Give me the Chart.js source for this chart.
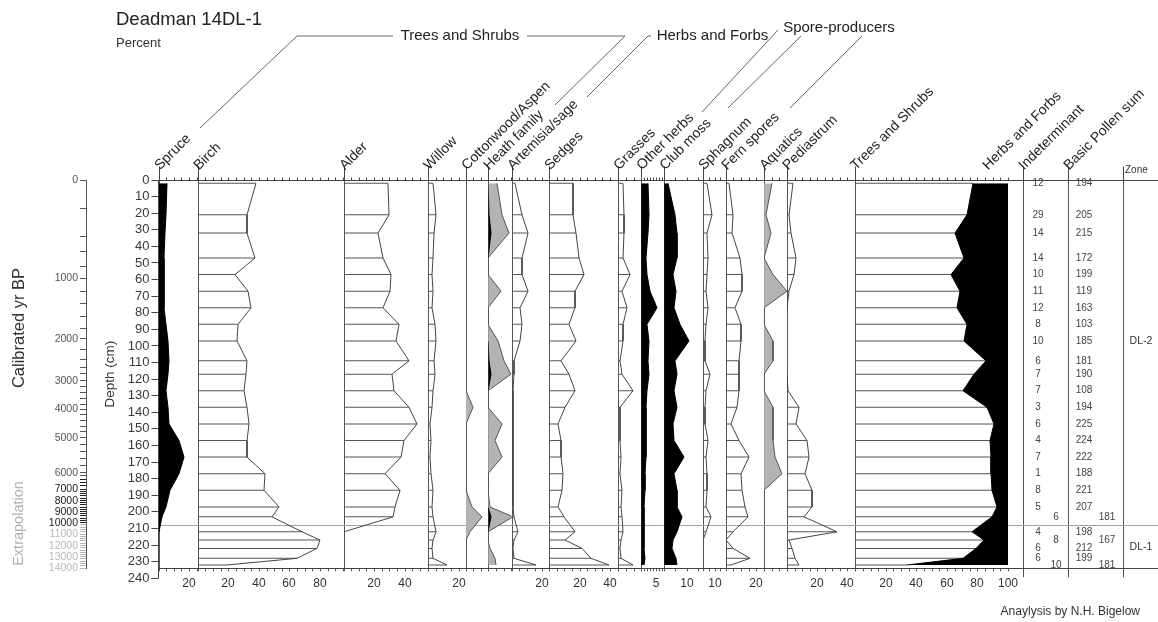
<!DOCTYPE html>
<html>
<head>
<meta charset="utf-8">
<title>Deadman 14DL-1 pollen diagram</title>
<script src="https://cdn.jsdelivr.net/npm/chart.js@4.4.1/dist/chart.umd.min.js"></script>
<style>
html,body{margin:0;padding:0;background:#fff;}
#wrap{width:1158px;height:622px;}
canvas{display:block;}
</style>
</head>
<body>
<div id="wrap"><canvas id="c" width="1158" height="622"></canvas></div>
<script>
// ---------------- DATA ----------------
const depths = [2,21,32,47,57,67,77,87,97,109,117,127,137,147,157,167,177,187,197,203,212,217,222,228,232];

const taxa = ['Spruce','Birch','Alder','Willow','Cottonwood/Aspen','Heath family','Artemisia/sage','Sedges',
  'Grasses','Other herbs','Club moss','Sphagnum','Fern spores','Aquatics','Pediastrum','Trees and Shrubs'];

const spruce      = [5.5,4.8,4.2,3.7,3.3,3.3,3.7,4.8,6.3,7.0,6.5,4.8,5.9,7.0,13.5,16.8,13.5,7.6,4.8,2.6,0,0,0,0,0];
const birch       = [38.1,32.4,32.0,37.5,24.4,32.7,34.8,26.6,25.9,32.0,31.6,30.5,32.0,33.7,32.0,32.4,44.0,43.3,53.3,48.4,68.0,80.0,77.8,65.1,19.0];
const alder       = [28.8,29.4,22.5,25.5,31.0,30.1,25.5,36.0,34.4,43.1,32.0,32.7,43.1,48.0,39.7,37.5,26.8,36.6,33.8,32.3,0,0,0,0,0];
const willow      = [3.5,5.0,3.9,3.0,2.4,3.0,2.4,4.4,5.4,3.9,4.6,3.0,2.4,1.3,1.7,1.3,2.2,3.0,2.4,3.0,5.4,3.5,2.4,3.5,12.7];
const cottonwood  = [0,0,0,0,0,0,0,0,0,0,0,0,5.2,0,0,0,0,0,4.5,11,3,0,0,0,0];
const heathExag   = [5.5,8.8,13.8,0,0,8.1,0,0,6.5,10.5,15,0,0,8.8,4.4,8.8,0,0,1.1,16,0,0,1.1,4.4,5];
const heath       = [0,0.5,2,0,0,0,0,0,0,0.5,2,0,0,0,0,0,0,0,0,1.5,0,0,0,0,0];
const artemisia   = [2.4,6.5,10.5,6.5,6.5,10.5,5.2,6.5,5.2,1.3,1.7,0.9,1.1,0.9,1.1,0.9,1.1,1.1,1.1,1.7,3.9,1.7,0.9,1.5,16];
const sedges      = [15.3,15.3,17.5,19.7,23.0,16.7,17.1,13.2,17.8,7.7,12.7,16.7,10.5,5.7,7.9,7.9,9.0,8.3,5.7,9.9,16.7,10.5,21.5,27.4,39];
const grasses     = [3.3,3.7,3.7,3.3,7.7,2.2,5.9,2.9,3.3,1.1,2.2,9.5,1.1,1.1,1.1,1.8,1.1,2.2,1.8,2.2,3.3,1.8,1.1,1.8,9.9];
const otherHerbs  = [2.2,2.4,2.2,1.7,1.9,3.0,5.3,1.9,2.7,2.1,2.7,1.9,1.7,1.6,1.7,1.6,1.3,1.3,1.0,0.8,1.0,0.8,0.8,1.3,1.0];
const clubMoss    = [1.6,4.8,5.8,5.9,4.0,5.2,4.3,7.0,11.0,4.8,5.5,4.5,5.5,4.0,4.3,8.8,4.3,5.5,5.8,7.8,5.5,4.0,3.3,5.1,5.8];
const sphagnum    = [3.0,7.4,3.0,3.9,3.0,2.4,4.4,2.4,1.8,1.5,5.9,2.4,1.5,1.5,3.9,2.4,3.0,3.0,2.4,6.8,2.4,0,0,0,0];
const fernSpores  = [2.2,5.0,4.4,9.4,10.9,10.5,6.1,9.9,9.9,9.0,9.0,9.0,7.2,3.5,9.0,15.3,10.1,10.5,12.9,14.7,5.0,0.5,4.8,16.0,3.5];
const aquatics    = [5,1.3,4.4,0,5.5,15,0,0,5.5,5.5,0,0,5.5,5.5,6.1,7.2,12,0,0,0,0,0,0,0,0];
const pediastrum  = [3.8,1.6,2.7,6.0,4.4,1.6,0,0,0,0,0,0.4,8.2,6.0,13.3,14.4,12.2,16.7,16.7,11.1,33.3,1.6,3.0,5.6,7.8];
const treesShrubs = [77.3,72.9,65.0,71.1,62.4,68.5,66.3,73.3,71.1,85.4,77.7,70.7,86.0,90.8,88.0,88.6,88.6,89.8,92.6,89.8,76.6,84.2,78.8,70.7,34];

const indeterminant      = [12,29,14,14,10,11,12,8,10,6,7,7,3,6,4,7,1,8,5,null,4,null,6,6,null];
const indeterminantExtra = [null,null,null,null,null,null,null,null,null,null,null,null,null,null,null,null,null,null,null,6,null,8,null,null,10];
const pollenSum          = [194,205,215,172,199,119,163,103,185,181,190,108,194,225,224,222,188,221,207,null,198,null,212,199,null];
const pollenSumExtra     = [null,null,null,null,null,null,null,null,null,null,null,null,null,null,null,null,null,null,null,181,null,167,null,null,181];

const zoneNames = ['DL-2','DL-1'];
const zoneLabelDepths = [97,221];
const zoneBoundaries = [208.5];
const coreBase = 234;

const panelTickLabels = [[20],[20,40,60,80],[20,40],[20],[],[],[20],[20,40],[],[5],[10],[10],[20],[],[20,40],[20,40,60,80,100]];
const depthTickLabels = [0,10,20,30,40,50,60,70,80,90,100,110,120,130,140,150,160,170,180,190,200,210,220,230,240];
const ageTickAges   = [0,1000,2000,3000,4000,5000,6000,7000,8000,9000,10000,11000,12000,13000,14000];
const ageTickDepths = [0,59.2,95.8,121.1,138.2,155.3,176.4,186.4,193.3,199.9,206.5,213.5,220.4,227.0,234];
const ageMinorDepths = [17,34.2,43.2,52.3, 67.3,74.3,82.4,89.4, 102.4,108,112.9,116.9, 124.5,128.2,131.6,135,
  141.6,145,148.4,151.8, 159.6,163.9,168.1,172.3, 178.3,180.3,182.4,184.4, 187.7,189.1,190.4,191.8,
  194.5,195.8,197.2,198.5, 201.1,202.4,203.8,205.1, 207.8,209.2,210.6,212, 214.8,216.2,217.5,218.9,
  221.6,223,224.3,225.6, 228.3,229.7,231.1,232.6];

// ---------------- LAYOUT / STYLE ----------------
const FONT = '"Liberation Sans", Arial, Helvetica, sans-serif';
const fnt = s => s + 'px ' + FONT;
const seriesList = [spruce,birch,alder,willow,cottonwood,heathExag,artemisia,sedges,grasses,otherHerbs,clubMoss,sphagnum,fernSpores,aquatics,pediastrum,treesShrubs];
const panelLayout = [
  {style:'black',  max:25.6, width:39.2,  step:5},
  {style:'hollow', max:95.3, width:145.8, step:5},
  {style:'hollow', max:55.2, width:84.5,  step:5},
  {style:'hollow', max:24.5, width:37.5,  step:5},
  {style:'gray',   max:15,   width:22.8,  step:5},
  {style:'gray',   max:15.3, width:23.4,  step:5},
  {style:'hollow', max:24.6, width:37.6,  step:5},
  {style:'hollow', max:45.4, width:69,    step:5},
  {style:'hollow', max:15.1, width:23,    step:5},
  {style:'black',  max:7.6,  width:22.9,  step:1},
  {style:'black',  max:17.4, width:39.1,  step:5},
  {style:'hollow', max:19.6, width:22.4,  step:5},
  {style:'hollow', max:25.3, width:38.5,  step:5},
  {style:'gray',   max:15,   width:22.8,  step:5},
  {style:'hollow', max:45.5, width:68.3,  step:5},
  {style:'trees',  max:100,  width:152.7, step:5}
];
const columnLayout = [
  {id:'cGap',  width:15.3, max:1,   line:false},
  {id:'cInd',  width:45,   max:3,   line:true},
  {id:'cSum',  width:54.4, max:3.5, line:true},
  {id:'cZone', width:35.3, max:1,   line:true}
];
const headerExtras = [
  {text:'Herbs and Forbs', axis:'p15', value:86.5},
  {text:'Indeterminant', axis:'cInd', value:0},
  {text:'Basic Pollen sum', axis:'cSum', value:0}
];
const TRANSP = 'rgba(0,0,0,0)';

// ---------------- SCALES ----------------
const scales = {};
scales.y = {
  type:'linear', position:'left', reverse:true, min:0, max:coreBase, offset:false, weight:0,
  grid:{drawOnChartArea:false, offset:false, tickLength:7, color:'#444', tickColor:'#444'},
  border:{display:true, color:'#444', width:1},
  ticks:{autoSkip:false, padding:2, color:'#3a3a3a', font:{family:FONT, size:13}},
  title:{display:true, text:'Depth (cm)', color:'#333', font:{family:FONT, size:13.5}, padding:{top:16, bottom:0}},
  afterBuildTicks: s => { s.ticks = depthTickLabels.map(v => ({value:v})); },
  afterFit: s => { s.width = 72.5; }
};
const ageCol = d => d > 207 ? '#b8b8b8' : (d > 180 ? '#222' : '#555');
scales.age = {
  type:'linear', position:'left', reverse:true, min:0, max:coreBase, offset:false, weight:5,
  grid:{drawOnChartArea:false, tickLength:6, tickColor: c => ageCol(c.tick ? c.tick.value : 0)},
  border:{display:true, color:'#555', width:1},
  ticks:{autoSkip:false, padding:2, font:{family:FONT, size:10.5},
    color: c => ageCol(c.tick ? c.tick.value : 0),
    callback: v => { const i = ageTickDepths.indexOf(v); return i >= 0 ? String(ageTickAges[i]) : ''; }},
  afterBuildTicks: s => { s.ticks = ageTickDepths.concat(ageMinorDepths).sort((a,b)=>a-b).map(v => ({value:v})); },
  afterFit: s => { s.width = 86; }
};
const fitX = s => { s.height = 26; s.paddingLeft = 0; s.paddingRight = 0; };
panelLayout.forEach((L, i) => {
  const labels = panelTickLabels[i];
  scales['p' + i] = {
    type:'linear', position:'bottom', stack:'panels', stackWeight:L.width, min:0, max:L.max, offset:false, alignToPixels:true,
    grid:{drawOnChartArea:true, lineWidth:1, tickLength:3, tickColor:'#555',
      color: c => (c.tick && c.tick.value === 0) ? '#555' : TRANSP},
    border:{display:true, color:'#444', width:1},
    ticks:{autoSkip:false, maxRotation:0, minRotation:0, padding:5, color:'#333', font:{family:FONT, size:12},
      callback: v => labels.indexOf(v) >= 0 ? String(v) : ''},
    afterBuildTicks: s => { const t = []; for (let k = 0; k * L.step <= L.max + 1e-9; k++) t.push({value: Math.round(k * L.step * 100) / 100}); s.ticks = t; },
    afterFit: fitX
  };
});
columnLayout.forEach(C => {
  scales[C.id] = {
    type:'linear', position:'bottom', stack:'panels', stackWeight:C.width, min:0, max:C.max, offset:false, alignToPixels:true,
    grid:{drawOnChartArea:true, lineWidth:1, tickLength:9,
      color: c => (C.line && c.tick && c.tick.value === 0) ? '#555' : TRANSP,
      tickColor: c => (C.line && c.tick && c.tick.value === 0) ? '#555' : TRANSP},
    border:{display:true, color:'#444', width:1},
    ticks:{display:false},
    afterBuildTicks: s => { s.ticks = [{value:0}]; },
    afterFit: fitX
  };
});

// ---------------- DATASETS ----------------
const pts = vals => vals.map((v, k) => ({x:v, y:depths[k]}));
const hideZeroRun = {borderColor: c => (c.p0.parsed.x === 0 && c.p1.parsed.x === 0) ? TRANSP : undefined};
const lineDS = (vals, ax, extra) => Object.assign({type:'line', data:pts(vals), xAxisID:ax, yAxisID:'y',
  borderWidth:1, pointRadius:0, tension:0, fill:false, borderColor:'#444', segment:hideZeroRun}, extra);
const barDS = (vals, ax) => ({type:'bar', data:pts(vals), xAxisID:ax, yAxisID:'y', indexAxis:'y', grouped:false,
  maxBarThickness:1, inflateAmount:0, borderWidth:0, backgroundColor:'#555', order:3});
const datasets = [];
panelLayout.forEach((L, i) => {
  const ax = 'p' + i, vals = seriesList[i];
  if (L.style === 'black') {
    datasets.push(lineDS(vals, ax, {fill:'origin', backgroundColor:'#000', borderColor:'#000', order:1}));
  } else if (L.style === 'gray') {
    datasets.push(lineDS(vals, ax, {fill:'origin', backgroundColor:'#b3b3b3', borderColor:'#555', order:2}));
  } else if (L.style === 'hollow') {
    datasets.push(barDS(vals, ax));
    datasets.push(lineDS(vals, ax, {order:1}));
  } else if (L.style === 'trees') {
    datasets.push(barDS(vals, ax));
    datasets.push(lineDS(vals, ax, {fill:{value:100}, backgroundColor:'#000', borderColor:'#000', order:2}));
  }
});
datasets.push(lineDS(heath, 'p5', {fill:'origin', backgroundColor:'#000', borderColor:'#000', order:0}));

// ---------------- DRAWING PLUGIN ----------------
function seg(ctx, x1, y1, x2, y2) { ctx.beginPath(); ctx.moveTo(x1, y1); ctx.lineTo(x2, y2); ctx.stroke(); }
function poly(ctx, p) { ctx.beginPath(); p.forEach((q, i) => i ? ctx.lineTo(q[0], q[1]) : ctx.moveTo(q[0], q[1])); ctx.stroke(); }
const cr = v => Math.round(v - 0.5) + 0.5;
function txt(ctx, s, x, y, font, color, align, base) {
  ctx.font = font; ctx.fillStyle = color; ctx.textAlign = align || 'left'; ctx.textBaseline = base || 'alphabetic';
  ctx.fillText(s, x, y);
}

const diagramPlugin = {
  id:'diagram',
  beforeDatasetsDraw(chart) {
    const {ctx, chartArea:a, scales:sc} = chart;
    ctx.save(); ctx.strokeStyle = '#a3a3a3'; ctx.lineWidth = 1;
    zoneBoundaries.forEach(d => { const yy = cr(sc.y.getPixelForValue(d)); seg(ctx, a.left, yy, a.right, yy); });
    ctx.restore();
  },
  afterDraw(chart) {
    const {ctx, chartArea:a, scales:sc} = chart;
    const y = sc.y;
    const yTop = cr(y.getPixelForValue(0));
    const yBase = cr(y.getPixelForValue(coreBase));
    ctx.save();
    ctx.lineWidth = 1; ctx.strokeStyle = '#444';
    seg(ctx, a.left - 1, yTop, a.right, yTop);
    seg(ctx, a.left, yBase, a.right, yBase);
    taxa.forEach((t, i) => {
      const s = sc['p' + i];
      const x0 = cr(s.getPixelForValue(0));
      seg(ctx, x0, yTop - 14, x0, yTop);
      s.ticks.forEach(tk => { const xx = cr(s.getPixelForValue(tk.value)); seg(ctx, xx, yTop - 3, xx, yTop); });
    });
    ['cInd','cSum','cZone'].forEach(id => { const x0 = cr(sc[id].getPixelForValue(0)); seg(ctx, x0, yTop - 14, x0, yTop); });
    // depth axis continues to 240 cm
    const yEnd = cr(y.getPixelForValue(depthTickLabels[depthTickLabels.length - 1]));
    const bx = cr(y.right);
    seg(ctx, bx, yBase, bx, yEnd);
    seg(ctx, bx - 7, yEnd, bx, yEnd);

    // rotated column headers
    ctx.fillStyle = '#222'; ctx.font = fnt(14); ctx.textAlign = 'left'; ctx.textBaseline = 'alphabetic';
    const heads = taxa.map((t, i) => ({text:t, axis:'p' + i, value:0})).concat(headerExtras);
    heads.forEach(h => {
      const x = sc[h.axis].getPixelForValue(h.value);
      ctx.save(); ctx.translate(x + 1, yTop - 10); ctx.rotate(-Math.PI / 4); ctx.fillText(h.text, 0, 0); ctx.restore();
    });
    txt(ctx, 'Zone', sc.cZone.getPixelForValue(0.07), yTop - 10, fnt(10), '#333', 'left', 'middle');

    // group labels with connector lines
    ctx.strokeStyle = '#666';
    [[[200,128],[297,36],[393,36]], [[527,36],[625,36],[555,105]], [[587,97],[648,36],[651,36]],
     [[702,112],[778,30]], [[728,108],[801,36]], [[790,108],[862,36]]].forEach(p => poly(ctx, p));
    txt(ctx, 'Trees and Shrubs', 460, 36, fnt(15), '#222', 'center', 'middle');
    txt(ctx, 'Herbs and Forbs', 712.5, 36, fnt(15), '#222', 'center', 'middle');
    txt(ctx, 'Spore-producers', 839, 28, fnt(15), '#222', 'center', 'middle');

    // titles
    txt(ctx, 'Deadman 14DL-1', 116, 25, fnt(18.5), '#222');
    txt(ctx, 'Percent', 116, 46.5, fnt(13), '#333');
    txt(ctx, 'Anaylysis by N.H. Bigelow', 1140, 615, fnt(12), '#333', 'right');

    // age axis labels
    ctx.save(); ctx.translate(19, 328); ctx.rotate(-Math.PI / 2);
    txt(ctx, 'Calibrated yr BP', 0, 0, fnt(16.5), '#333', 'center', 'middle'); ctx.restore();
    ctx.save(); ctx.translate(19, y.getPixelForValue(207)); ctx.rotate(-Math.PI / 2);
    txt(ctx, 'Extrapolation', 0, 0, fnt(14.5), '#b0b0b0', 'center', 'middle'); ctx.restore();

    // count columns
    depths.forEach((d, k) => {
      const yy = y.getPixelForValue(d);
      if (indeterminant[k] != null) txt(ctx, String(indeterminant[k]), sc.cInd.getPixelForValue(1), yy, fnt(10), '#444', 'center', 'middle');
      if (indeterminantExtra[k] != null) txt(ctx, String(indeterminantExtra[k]), sc.cInd.getPixelForValue(2.2), yy, fnt(10), '#444', 'center', 'middle');
      if (pollenSum[k] != null) txt(ctx, String(pollenSum[k]), sc.cSum.getPixelForValue(1), yy, fnt(10), '#444', 'center', 'middle');
      if (pollenSumExtra[k] != null) txt(ctx, String(pollenSumExtra[k]), sc.cSum.getPixelForValue(2.5), yy, fnt(10), '#444', 'center', 'middle');
    });
    zoneNames.forEach((z, k) => txt(ctx, z, sc.cZone.getPixelForValue(0.52), y.getPixelForValue(zoneLabelDepths[k]), fnt(10.5), '#333', 'center', 'middle'));
    ctx.restore();
  }
};

new Chart(document.getElementById('c'), {
  type:'line',
  data:{datasets},
  options:{
    indexAxis:'y', responsive:false, animation:false, devicePixelRatio:1, events:[],
    layout:{padding:{top:180, left:0, right:0, bottom:27.7}},
    plugins:{legend:{display:false}, tooltip:{enabled:false}},
    elements:{point:{radius:0}},
    scales
  },
  plugins:[diagramPlugin]
});
</script>
</body>
</html>
